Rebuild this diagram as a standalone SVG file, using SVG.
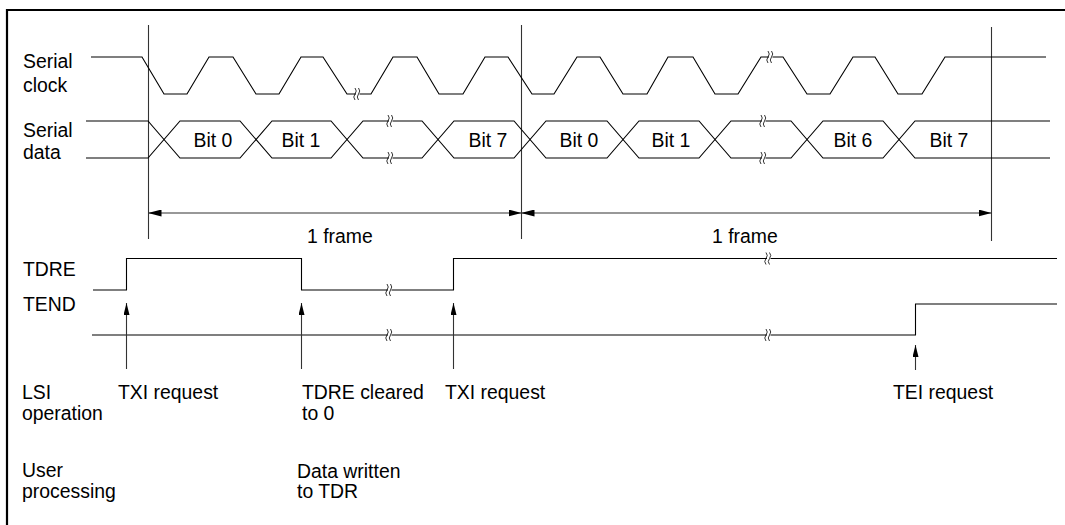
<svg xmlns="http://www.w3.org/2000/svg" xmlns:xlink="http://www.w3.org/1999/xlink" width="1065" height="525" viewBox="0 0 1065 525">
<style>
  .t { font-family: "Liberation Sans", Arial, sans-serif; font-size: 19.4px; fill: #000; }
  .m { text-anchor: middle; }
  .w { fill: none; stroke: #000; stroke-width: 1.1; }
  .g { fill: none; stroke: #333; stroke-width: 1.1; }
</style>
<defs>
  <marker id="ah" viewBox="0 0 13 7" refX="13" refY="3.5" markerWidth="13" markerHeight="7" markerUnits="userSpaceOnUse" orient="auto-start-reverse">
    <path d="M0,0 L13,3.5 L0,7 z" fill="#000"/>
  </marker>
  <marker id="au" viewBox="0 0 12 6" refX="12" refY="3" markerWidth="12" markerHeight="6" markerUnits="userSpaceOnUse" orient="auto">
    <path d="M0,0 L12,3 L0,6 z" fill="#000"/>
  </marker>
  <g id="brk">
    <rect x="-2" y="-6" width="3.5" height="12" fill="#fff"/>
    <path d="M-3,-6 q2.5,3 0,6 q-2.5,3 0,6 M0.5,-6 q2.5,3 0,6 q-2.5,3 0,6" fill="none" stroke="#000" stroke-width="0.8"/>
  </g>
</defs>
<rect width="1065" height="525" fill="#fff"/>
<path d="M7,1065 V10 H1065" fill="none" stroke="#000" stroke-width="2.2"/>

<g id="labels">
  <text class="t" x="23" y="68">Serial</text>
  <text class="t" x="23" y="92">clock</text>
  <text class="t" x="23" y="137">Serial</text>
  <text class="t" x="23" y="159">data</text>
  <text class="t" x="23" y="276">TDRE</text>
  <text class="t" x="23" y="311">TEND</text>
  <text class="t" x="22" y="399">LSI</text>
  <text class="t" x="22" y="420">operation</text>
  <text class="t" x="22" y="477">User</text>
  <text class="t" x="22" y="498">processing</text>
</g>

<g id="frame-markers">
  <line class="g" x1="148.5" y1="25" x2="148.5" y2="239"/>
  <line class="g" x1="521.5" y1="25" x2="521.5" y2="239"/>
  <line class="g" x1="991.5" y1="27" x2="991.5" y2="241"/>
</g>

<g id="serial-clock">
  <path class="w" d="M91,57 L142,57 L164,94 L187,94 L209,57 L233,57 L256,94 L279,94 L301,57 L323,57 L347,94 L371,94 L393,57 L417,57 L439,94 L463,94 L485,57 L508,57 L532,94 L554,94 L577,57 L600,57 L623,94 L647,94 L668,57 L693,57 L715,94 L738,94 L761,57 L783,57 L807,94 L830,94 L853,57 L875,57 L898,94 L922,94 L945,57 L1046,57"/>
  <use xlink:href="#brk" x="358" y="94"/>
  <use xlink:href="#brk" x="771" y="57"/>
</g>

<g id="serial-data">
  <polyline class="w" points="86,121 148,121 180,158 240,158 272,121 331,121 363,158 422,158 454,121 514,121 546,158 607,158 639,121 699,121 731,158 791,158 823,121 883,121 915,158 1050,158"/>
  <polyline class="w" points="86,158 148,158 180,121 240,121 272,158 331,158 363,121 422,121 454,158 514,158 546,121 607,121 639,158 699,158 731,121 791,121 823,158 883,158 915,121 1050,121"/>
  <use xlink:href="#brk" x="391" y="121"/>
  <use xlink:href="#brk" x="391" y="158"/>
  <use xlink:href="#brk" x="764" y="121"/>
  <use xlink:href="#brk" x="764" y="158"/>
  <text class="t m" x="213" y="147">Bit 0</text>
  <text class="t m" x="301" y="147">Bit 1</text>
  <text class="t m" x="488" y="147">Bit 7</text>
  <text class="t m" x="579" y="147">Bit 0</text>
  <text class="t m" x="671" y="147">Bit 1</text>
  <text class="t m" x="853" y="147">Bit 6</text>
  <text class="t m" x="949" y="147">Bit 7</text>
</g>

<g id="frames">
  <line class="g" x1="148.5" y1="213" x2="521.5" y2="213" marker-start="url(#ah)" marker-end="url(#ah)"/>
  <line class="g" x1="521.5" y1="213" x2="991.5" y2="213" marker-start="url(#ah)" marker-end="url(#ah)"/>
  <text class="t" x="307" y="243">1 frame</text>
  <text class="t" x="712" y="243">1 frame</text>
</g>

<g id="tdre">
  <path class="w" d="M93,290 H126.5 V258.5 H301.5 V290 H453.5 V258.5 H1057"/>
  <use xlink:href="#brk" x="390" y="290"/>
  <use xlink:href="#brk" x="769" y="258.5"/>
</g>

<g id="tend">
  <path class="w" d="M92,335 H915.5 V304 H1057"/>
  <use xlink:href="#brk" x="390" y="335"/>
  <use xlink:href="#brk" x="769" y="335"/>
</g>

<g id="connectors">
  <line class="g" x1="126.5" y1="369" x2="126.5" y2="303" marker-end="url(#au)"/>
  <line class="g" x1="301.5" y1="369" x2="301.5" y2="303" marker-end="url(#au)"/>
  <line class="g" x1="453.5" y1="369" x2="453.5" y2="303" marker-end="url(#au)"/>
  <line class="g" x1="915.5" y1="370" x2="915.5" y2="345" marker-end="url(#au)"/>
</g>

<g id="events">
  <text class="t" x="118" y="399">TXI request</text>
  <text class="t" x="302" y="399">TDRE cleared</text>
  <text class="t" x="302" y="420">to 0</text>
  <text class="t" x="445" y="399">TXI request</text>
  <text class="t" x="893" y="399">TEI request</text>
  <text class="t" x="297" y="478">Data written</text>
  <text class="t" x="297" y="498">to TDR</text>
</g>
</svg>
